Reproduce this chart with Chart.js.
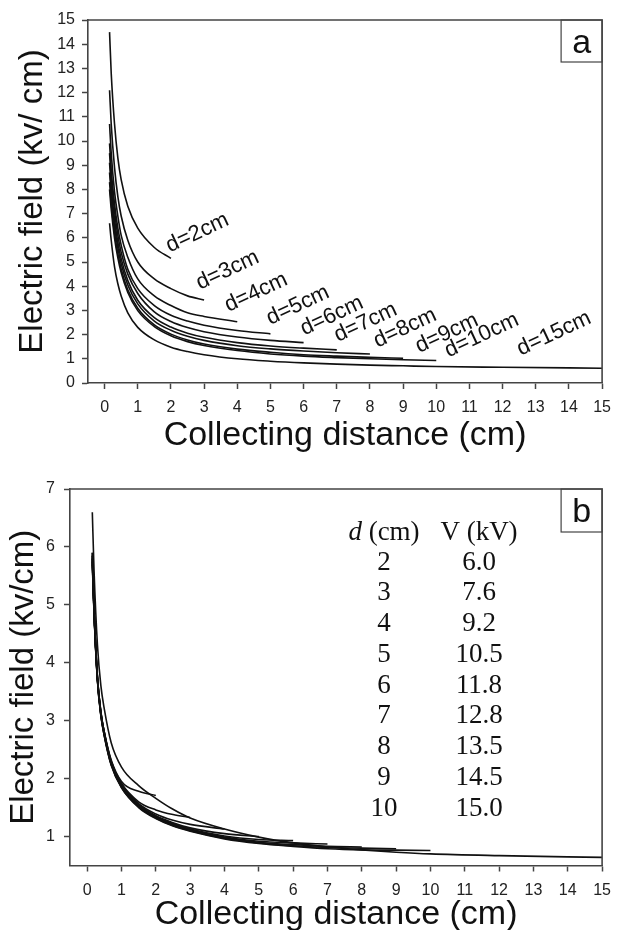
<!DOCTYPE html>
<html>
<head>
<meta charset="utf-8">
<title>Electric field vs collecting distance</title>
<script src="https://cdn.jsdelivr.net/npm/chart.js@4.4.0/dist/chart.umd.min.js"></script>
<style>
  html, body { margin: 0; padding: 0; background: #fff; overflow: hidden; }
  canvas { position: absolute; left: 0; }
  #chartA { top: 0; }
  #chartB { top: 460px; }
</style>
</head>
<body>
<canvas id="chartA" width="620" height="460"></canvas>
<canvas id="chartB" width="620" height="500"></canvas>
<script>
// Electric field along the collecting distance – two panels
// ------------------------------------------------------------

// Sample positions along the collecting distance (cm); each curve stops at its own d
const xGrid = [0.15, 0.2, 0.3, 0.4, 0.5, 0.7, 1, 1.5, 2, 2.5, 3, 4, 5, 6, 7, 8, 9, 10, 12, 15];

// Panel a – field (kV/cm)
const fieldA_d2 = [14.5, 12.8, 10.7, 9.3, 8.4, 7.3, 6.4, 5.6, 5.15];
const fieldA_d3 = [12.1, 10.7, 8.9, 7.7, 6.9, 5.9, 5.0, 4.3, 3.9, 3.6, 3.43];
const fieldA_d4 = [10.7, 9.5, 7.9, 6.9, 6.1, 5.2, 4.3, 3.6, 3.2, 2.9, 2.75, 2.53];
const fieldA_d5 = [9.9, 8.8, 7.4, 6.4, 5.7, 4.7, 3.9, 3.2, 2.8, 2.56, 2.39, 2.17, 2.03];
const fieldA_d6 = [9.5, 8.5, 7.1, 6.1, 5.4, 4.5, 3.7, 2.94, 2.54, 2.29, 2.12, 1.9, 1.76, 1.67];
const fieldA_d7 = [9.1, 8.1, 6.75, 5.81, 5.14, 4.23, 3.42, 2.7, 2.31, 2.06, 1.89, 1.67, 1.53, 1.44, 1.37];
const fieldA_d8 = [8.7, 7.8, 6.48, 5.58, 4.93, 4.05, 3.27, 2.56, 2.18, 1.93, 1.76, 1.54, 1.41, 1.32, 1.25, 1.2];
const fieldA_d9 = [8.3, 7.44, 6.19, 5.33, 4.71, 3.85, 3.09, 2.4, 2.02, 1.78, 1.61, 1.4, 1.27, 1.17, 1.11, 1.06, 1.02];
const fieldA_d10 = [8.0, 7.18, 5.99, 5.17, 4.56, 3.74, 2.99, 2.33, 1.95, 1.71, 1.55, 1.34, 1.2, 1.11, 1.05, 1.0, 0.96, 0.93];
const fieldA_d15 = [6.6, 5.9, 4.8, 4.1, 3.6, 2.9, 2.3, 1.78, 1.48, 1.3, 1.17, 1.0, 0.9, 0.83, 0.78, 0.74, 0.71, 0.68, 0.65, 0.61];

// Panel b – field (kV/cm) with the voltages of the table
const fieldB_d2 = [5.9, 4.95, 3.75, 3.15, 2.8, 2.32, 1.95, 1.78, 1.71];
const fieldB_d3 = [5.9, 4.95, 3.75, 3.15, 2.8, 2.3, 1.92, 1.6, 1.46, 1.38, 1.33];
const fieldB_d4 = [5.85, 4.93, 3.74, 3.14, 2.79, 2.29, 1.9, 1.57, 1.39, 1.28, 1.21, 1.13];
const fieldB_d5 = [5.85, 4.92, 3.73, 3.13, 2.78, 2.28, 1.89, 1.55, 1.36, 1.24, 1.15, 1.05, 1.0];
const fieldB_d6 = [5.8, 4.9, 3.72, 3.12, 2.77, 2.27, 1.88, 1.54, 1.35, 1.22, 1.13, 1.01, 0.95, 0.93];
const fieldB_d7 = [5.8, 4.9, 3.71, 3.11, 2.76, 2.26, 1.87, 1.53, 1.34, 1.21, 1.12, 0.99, 0.92, 0.89, 0.87];
const fieldB_d8 = [5.75, 4.88, 3.7, 3.1, 2.75, 2.25, 1.86, 1.52, 1.33, 1.2, 1.11, 0.98, 0.9, 0.86, 0.83, 0.82];
const fieldB_d9 = [5.75, 4.87, 3.69, 3.09, 2.74, 2.24, 1.85, 1.51, 1.32, 1.19, 1.1, 0.97, 0.89, 0.84, 0.81, 0.8, 0.79];
const fieldB_d10 = [5.7, 4.85, 3.68, 3.08, 2.73, 2.23, 1.84, 1.5, 1.31, 1.18, 1.09, 0.96, 0.88, 0.83, 0.79, 0.77, 0.765, 0.76];
const fieldB_d15 = [6.6, 5.6, 4.3, 3.6, 3.2, 2.62, 2.2, 1.88, 1.66, 1.47, 1.32, 1.13, 0.99, 0.89, 0.82, 0.77, 0.73, 0.7, 0.67, 0.64];

// Curve labels of panel a and where they sit (data units)
const curveLabels = ['d=2cm', 'd=3cm', 'd=4cm', 'd=5cm', 'd=6cm', 'd=7cm', 'd=8cm', 'd=9cm', 'd=10cm', 'd=15cm'];
const labelX = [2.8, 3.71, 4.57, 5.83, 6.85, 7.87, 9.06, 10.32, 11.37, 13.55];
const labelY = [6.2, 4.66, 3.74, 3.21, 2.77, 2.5, 2.27, 2.05, 1.97, 2.04];

// Table of panel b
const tableD = ['2', '3', '4', '5', '6', '7', '8', '9', '10'];
const tableV = ['6.0', '7.6', '9.2', '10.5', '11.8', '12.8', '13.5', '14.5', '15.0'];

// Tick values
const xTicks = [0, 1, 2, 3, 4, 5, 6, 7, 8, 9, 10, 11, 12, 13, 14, 15];
const yTicksA = [0, 1, 2, 3, 4, 5, 6, 7, 8, 9, 10, 11, 12, 13, 14, 15];
const yTicksB = [1, 2, 3, 4, 5, 6, 7];

// -------------------------------------------------------------------------
// Styling
// -------------------------------------------------------------------------
const FONT = '"Liberation Sans", Arial, sans-serif';
const SERIF = '"Liberation Serif", "Times New Roman", serif';
const AXIS = '#444';
const INK = '#111';

function toPoints(ys) {
  return ys.map((y, i) => ({ x: xGrid[i], y }));
}

function buildDatasets(series) {
  return series.map((ys) => ({
    data: toPoints(ys),
    borderColor: INK,
    borderWidth: 1.6,
    pointRadius: 0,
    fill: false,
    cubicInterpolationMode: 'monotone',
  }));
}

function buildScales(o) {
  return {
    x: {
      type: 'linear',
      min: -0.5,
      max: 15,
      afterBuildTicks: (s) => { s.ticks = xTicks.map((v) => ({ value: v })); },
      afterFit: (s) => { s.height = o.xHeight; },
      grid: { drawOnChartArea: false, drawTicks: true, tickLength: 6, color: AXIS, tickColor: AXIS, tickWidth: 1.5 },
      border: { display: true, color: AXIS, width: 1.6 },
      ticks: { color: '#222', font: { family: FONT, size: 16 }, padding: 9, maxRotation: 0, autoSkip: false },
      title: {
        display: true,
        text: 'Collecting distance (cm)',
        color: INK,
        font: { family: FONT, size: 34 },
        padding: { top: 0, bottom: o.xTitlePad },
      },
    },
    y: {
      type: 'linear',
      min: o.yMin,
      max: o.yMax,
      afterBuildTicks: (s) => { s.ticks = o.yTicks.map((v) => ({ value: v })); },
      afterFit: (s) => { s.width = o.yWidth; },
      grid: { drawOnChartArea: false, drawTicks: true, tickLength: 6, color: AXIS, tickColor: AXIS, tickWidth: 1.5 },
      border: { display: true, color: AXIS, width: 1.6 },
      ticks: { color: '#222', font: { family: FONT, size: 16 }, padding: o.yTickPad, autoSkip: false },
      title: {
        display: true,
        text: o.yTitle,
        color: INK,
        font: { family: FONT, size: 33 },
        padding: { top: o.yTitlePad, bottom: 0 },
      },
    },
  };
}

// Frame (top + right) and panel letter box
const framePlugin = {
  id: 'frame',
  afterDraw(chart, args, opts) {
    const { ctx, chartArea: a } = chart;
    ctx.save();
    ctx.strokeStyle = AXIS;
    ctx.lineWidth = 1.6;
    ctx.beginPath();
    ctx.moveTo(a.left, a.top);
    ctx.lineTo(a.right, a.top);
    ctx.lineTo(a.right, a.bottom);
    ctx.stroke();
    ctx.lineWidth = 1.2;
    ctx.strokeRect(a.right - opts.boxW, a.top, opts.boxW, opts.boxH);
    ctx.fillStyle = INK;
    ctx.font = `34px ${FONT}`;
    ctx.textAlign = 'center';
    ctx.textBaseline = 'alphabetic';
    ctx.fillText(opts.letter, a.right - opts.boxW / 2, a.top + 32.5);
    ctx.restore();
  },
};

// Rotated d=..cm labels on panel a
const curveLabelPlugin = {
  id: 'curveLabels',
  afterDatasetsDraw(chart) {
    const { ctx, scales } = chart;
    ctx.save();
    ctx.fillStyle = INK;
    ctx.font = `22px ${FONT}`;
    ctx.textAlign = 'center';
    ctx.textBaseline = 'middle';
    curveLabels.forEach((t, i) => {
      const px = scales.x.getPixelForValue(labelX[i]);
      const py = scales.y.getPixelForValue(labelY[i]);
      ctx.save();
      ctx.translate(px, py);
      ctx.rotate(-25 * Math.PI / 180);
      ctx.fillText(t, 0, 0);
      ctx.restore();
    });
    ctx.restore();
  },
};

// d / V table on panel b
const tablePlugin = {
  id: 'voltTable',
  afterDatasetsDraw(chart) {
    const { ctx, chartArea: a } = chart;
    const colD = a.left + 314;
    const colV = a.left + 409;
    ctx.save();
    ctx.fillStyle = INK;
    ctx.textBaseline = 'alphabetic';

    // header: italic d + (cm)
    const headY = a.top + 50.7;
    ctx.font = `italic 27px ${SERIF}`;
    const wD = ctx.measureText('d').width;
    ctx.font = `27px ${SERIF}`;
    const wCm = ctx.measureText(' (cm)').width;
    const x0 = colD - (wD + wCm) / 2;
    ctx.textAlign = 'left';
    ctx.font = `italic 27px ${SERIF}`;
    ctx.fillText('d', x0, headY);
    ctx.font = `27px ${SERIF}`;
    ctx.fillText(' (cm)', x0 + wD, headY);
    ctx.textAlign = 'center';
    ctx.fillText('V (kV)', colV, headY);

    tableD.forEach((d, i) => {
      const y = a.top + 80.7 + i * 30.75;
      ctx.fillText(d, colD, y);
      ctx.fillText(tableV[i], colV, y);
    });
    ctx.restore();
  },
};

function baseOptions(scales, frame) {
  return {
    responsive: false,
    animation: false,
    devicePixelRatio: 1,
    events: [],
    layout: { padding: frame.padding },
    scales,
    plugins: {
      legend: { display: false },
      tooltip: { enabled: false },
      frame: frame.box,
    },
  };
}

// -------------------------------------------------------------------------
// Panel a
// -------------------------------------------------------------------------
new Chart(document.getElementById('chartA').getContext('2d'), {
  type: 'line',
  data: {
    datasets: buildDatasets([
      fieldA_d2, fieldA_d3, fieldA_d4, fieldA_d5, fieldA_d6,
      fieldA_d7, fieldA_d8, fieldA_d9, fieldA_d10, fieldA_d15,
    ]),
  },
  options: baseOptions(
    buildScales({
      yMin: 0, yMax: 15, yTicks: yTicksA, yWidth: 88, yTickPad: 7,
      yTitle: 'Electric field (kv/ cm)', yTitlePad: 13, xHeight: 77, xTitlePad: 4,
    }),
    { padding: { top: 20, right: 13, left: 0, bottom: 0 }, box: { letter: 'a', boxW: 41, boxH: 42 } }
  ),
  plugins: [framePlugin, curveLabelPlugin],
});

// -------------------------------------------------------------------------
// Panel b
// -------------------------------------------------------------------------
new Chart(document.getElementById('chartB').getContext('2d'), {
  type: 'line',
  data: {
    datasets: buildDatasets([
      fieldB_d2, fieldB_d3, fieldB_d4, fieldB_d5, fieldB_d6,
      fieldB_d7, fieldB_d8, fieldB_d9, fieldB_d10, fieldB_d15,
    ]),
  },
  options: baseOptions(
    buildScales({
      yMin: 0.5, yMax: 7, yTicks: yTicksB, yWidth: 70, yTickPad: 9,
      yTitle: 'Electric field (kv/cm)', yTitlePad: 4, xHeight: 94.5, xTitlePad: 25,
    }),
    { padding: { top: 29, right: 13, left: 0, bottom: 0 }, box: { letter: 'b', boxW: 41, boxH: 43 } }
  ),
  plugins: [framePlugin, tablePlugin],
});
</script>
</body>
</html>
